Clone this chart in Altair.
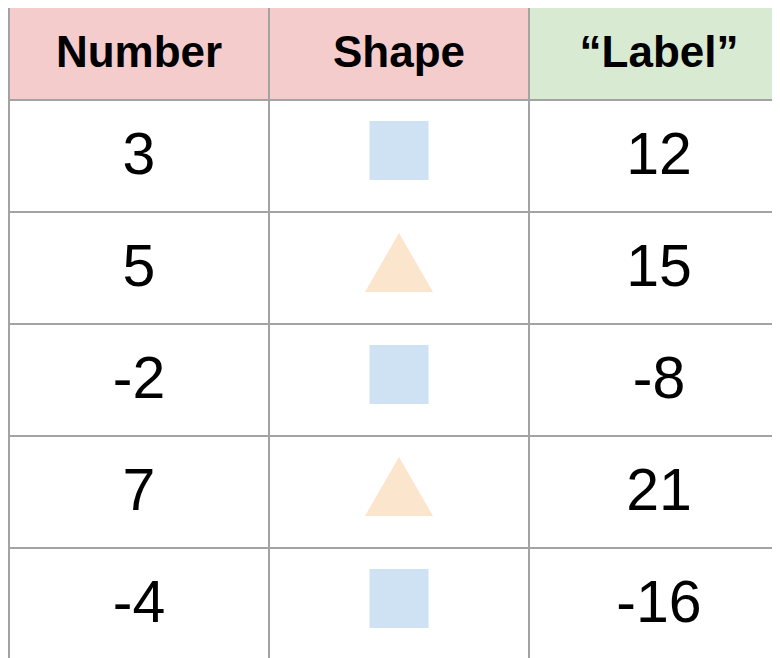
import altair as alt
import pandas as pd

# ---- data ----
headers = ["Number", "Shape", "\u201cLabel\u201d"]
numbers = [3, 5, -2, 7, -4]
shapes = ["square", "triangle", "square", "triangle", "square"]
labels = [12, 15, -8, 21, -16]

# ---- styles / layout ----
header_fill = ["#f4cccc", "#f4cccc", "#d9ead3"]
shape_fill = {"square": "#cfe2f3", "triangle": "#fce5cd"}
shape_path = {"square": "M-1,-1L1,-1L1,1L-1,1Z",
              "triangle": "M-1,0.866L1,0.866L0,-0.866Z"}
shape_size = {"square": 3481, "triangle": 4624}
grid_color = "#a3a3a3"
FONT = "Liberation Sans"

W, H = 764, 650          # svg size (fits the page body width)
COL_PX = 260             # column width in px
ROW_PX = 112             # body row height in px
HEADER_PX = 93           # header height in px
X0 = 1                   # left border position in chart px
Y0 = -1                  # top border position in chart px
HEADER_TOP = -HEADER_PX / ROW_PX

n_rows = len(numbers)
n_cols = len(headers)

hdr = pd.DataFrame({
    "col": list(range(n_cols)),
    "col2": [c + 1 for c in range(n_cols)],
    "cx": [c + 0.5 for c in range(n_cols)],
    "text": headers,
    "fill": header_fill,
    "top": [HEADER_TOP] * n_cols,
    "bottom": [0] * n_cols,
    "mid": [HEADER_TOP / 2] * n_cols,
})

body_rows = []
for i in range(n_rows):
    body_rows.append({"cx": 0.5, "cy": i + 0.5, "text": str(numbers[i])})
    body_rows.append({"cx": 2.5, "cy": i + 0.5, "text": str(labels[i])})
body = pd.DataFrame(body_rows)

shape_df = pd.DataFrame({
    "cx": [1.5] * n_rows,
    "cy": [i + 0.5 for i in range(n_rows)],
    "shape": shapes,
})

vlines = pd.DataFrame({"x": list(range(n_cols + 1)),
                       "y": [HEADER_TOP] * (n_cols + 1),
                       "y2": [n_rows] * (n_cols + 1)})
hlines = pd.DataFrame({"y": [HEADER_TOP] + list(range(n_rows + 1)),
                       "x": [0] * (n_rows + 2),
                       "x2": [n_cols] * (n_rows + 2)})

# linear scales whose domain maps the table grid onto the pixel layout
x_dom = [-X0 / COL_PX, (W - X0) / COL_PX]
y_dom = [HEADER_TOP - Y0 / ROW_PX, HEADER_TOP + (H - Y0) / ROW_PX]
xs = alt.Scale(domain=x_dom, zero=False, nice=False)
ys = alt.Scale(domain=y_dom, zero=False, nice=False, reverse=True)

header_rect = alt.Chart(hdr).mark_rect().encode(
    x=alt.X("col:Q", scale=xs, axis=None),
    x2="col2:Q",
    y=alt.Y("top:Q", scale=ys, axis=None),
    y2="bottom:Q",
    fill=alt.Fill("fill:N", scale=None),
)

header_text = alt.Chart(hdr).mark_text(
    font=FONT, fontSize=44, fontWeight="bold", color="#000000",
    align="center", baseline="middle"
).encode(
    x=alt.X("cx:Q", scale=xs, axis=None),
    y=alt.Y("mid:Q", scale=ys, axis=None),
    text="text:N",
)

body_text = alt.Chart(body).mark_text(
    font=FONT, fontSize=59, color="#000000",
    align="center", baseline="middle"
).encode(
    x=alt.X("cx:Q", scale=xs, axis=None),
    y=alt.Y("cy:Q", scale=ys, axis=None),
    text="text:N",
)

shape_keys = list(shape_fill.keys())
points = alt.Chart(shape_df).mark_point(filled=True, opacity=1, yOffset=-5.5).encode(
    x=alt.X("cx:Q", scale=xs, axis=None),
    y=alt.Y("cy:Q", scale=ys, axis=None),
    shape=alt.Shape("shape:N", scale=alt.Scale(domain=shape_keys,
                    range=[shape_path[k] for k in shape_keys]), legend=None),
    fill=alt.Fill("shape:N", scale=alt.Scale(domain=shape_keys,
                  range=[shape_fill[k] for k in shape_keys]), legend=None),
    size=alt.Size("shape:N", scale=alt.Scale(type="ordinal", domain=shape_keys,
                  range=[shape_size[k] for k in shape_keys]), legend=None),
)

vrule = alt.Chart(vlines).mark_rule(color=grid_color, strokeWidth=2).encode(
    x=alt.X("x:Q", scale=xs, axis=None),
    y=alt.Y("y:Q", scale=ys, axis=None),
    y2="y2:Q",
)
hrule = alt.Chart(hlines).mark_rule(color=grid_color, strokeWidth=2).encode(
    y=alt.Y("y:Q", scale=ys, axis=None),
    x=alt.X("x:Q", scale=xs, axis=None),
    x2="x2:Q",
)

chart = alt.layer(header_rect, points, header_text, body_text, hrule, vrule).properties(
    width=W, height=H,
    autosize=alt.AutoSizeParams(type="none"),
    padding=0,
).configure_view(stroke=None).configure(background="white")

chart.save("out.html", embed_options={"renderer": "svg", "actions": False})
